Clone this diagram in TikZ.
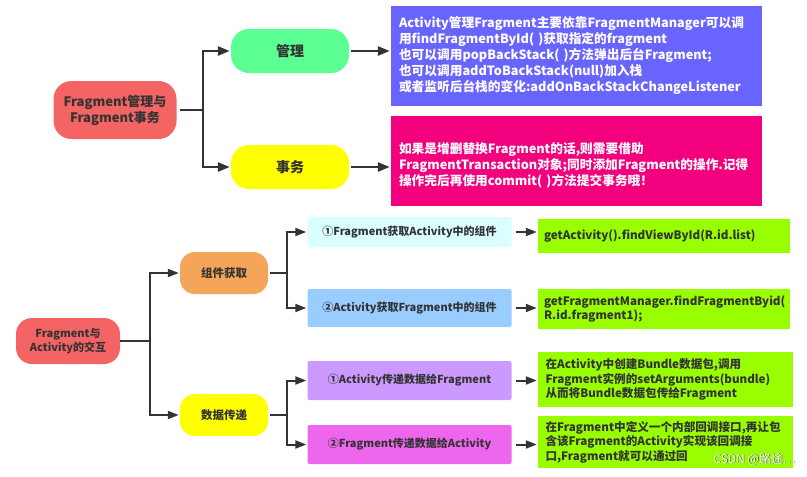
\documentclass[tikz,border=0pt]{standalone}
\usepackage{fontspec}
\setmainfont{Noto Sans CJK SC}
\usetikzlibrary{arrows.meta}
\definecolor{cred}{HTML}{F46464}
\definecolor{cgreen}{HTML}{5CFF92}
\definecolor{cyellow}{HTML}{FFFF00}
\definecolor{cblue}{HTML}{6A64FF}
\definecolor{cpink}{HTML}{F2007D}
\definecolor{corange}{HTML}{F5A55A}
\definecolor{ccyan}{HTML}{D9FFFF}
\definecolor{clblue}{HTML}{99CCFF}
\definecolor{cpurple}{HTML}{CC99FF}
\definecolor{cmag}{HTML}{EE66EE}
\definecolor{clime}{HTML}{99FF00}
\definecolor{cline}{HTML}{333333}
\begin{document}
\begin{tikzpicture}[x=1pt,y=-1pt,
  pill/.style={rounded corners=18pt,draw=none,font=\bfseries\fontsize{13}{16}\selectfont,text=cline,align=center,inner sep=0pt},
  note/.style={draw=none,font=\bfseries\fontsize{12.7}{16}\selectfont,text=white,align=left,inner sep=0pt},
  sub/.style={rounded corners=2pt,draw=none,font=\bfseries\fontsize{11}{14}\selectfont,text=cline,align=center,inner sep=0pt,minimum width=204pt},
  code/.style={draw=none,fill=clime,font=\bfseries\fontsize{11.6}{14.5}\selectfont,text=cline,align=left,inner sep=0pt,minimum width=252pt},
  link/.style={draw=cline,line width=2.5pt},
  arr/.style={link,-{Triangle[length=12pt,width=9pt]}},
  sarr/.style={draw=cline,line width=2pt,-{Triangle[length=11pt,width=8pt]}}]
\useasboundingbox[fill=white] (0,0) rectangle (807,477);
% top section
\node[pill,fill=cred,minimum width=123pt,minimum height=58pt] (r1) at (115,110) {Fragment管理与\\Fragment事务};
\node[pill,fill=cgreen,minimum width=118pt,minimum height=44pt,font=\bfseries\fontsize{14}{16}\selectfont] (gl) at (290,51) {管理};
\node[pill,fill=cyellow,minimum width=118pt,minimum height=44pt,font=\bfseries\fontsize{14}{16}\selectfont] (sw) at (290,167) {事务};
\node[note,fill=cblue,minimum width=371pt,minimum height=100pt,text width=355pt] (n1) at (576.5,56) {Activity管理Fragment主要依靠FragmentManager可以调\\用findFragmentById( )获取指定的fragment\\也可以调用popBackStack( )方法弹出后台Fragment;\\也可以调用addToBackStack(null)加入栈\\或者监听后台栈的变化:addOnBackStackChangeListener\\[6pt]};
\node[note,fill=cpink,minimum width=371pt,minimum height=90pt,text width=355pt] (n2) at (576.5,161) {\\[4pt]如果是增删替换Fragment的话,则需要借助\\FragmentTransaction对象;同时添加Fragment的操作.记得\\操作完后再使用commit( )方法提交事务哦！};
\coordinate (b1) at (203,110);
\draw[link,shorten <=3pt] (r1.east) -- (b1);
\draw[arr] (b1) |- ([xshift=-1pt]gl.west);
\draw[arr] (b1) |- ([xshift=-1pt]sw.west);
\draw[arr,shorten <=2pt,shorten >=1pt] (gl.east) -- (gl.east -| n1.west);
\draw[arr,shorten <=2pt,shorten >=1pt] (sw.east) -- (sw.east -| n2.west);
% bottom section
\node[pill,fill=cred,minimum width=104pt,minimum height=46pt,rounded corners=16pt,font=\bfseries\fontsize{11}{14}\selectfont] (r2) at (68,341) {Fragment与\\Activity的交互};
\node[pill,fill=corange,minimum width=88pt,minimum height=42pt,rounded corners=15pt,font=\bfseries\fontsize{11.5}{14}\selectfont] (zj) at (224,273) {组件获取};
\node[pill,fill=cyellow,minimum width=88pt,minimum height=42pt,rounded corners=15pt,font=\bfseries\fontsize{11.5}{14}\selectfont] (sj) at (224,415) {数据传递};
\node[sub,fill=ccyan,minimum height=30pt] (s1) at (409.5,232) {①Fragment获取Activity中的组件};
\node[sub,fill=clblue,minimum height=38pt] (s2) at (409.5,308) {②Activity获取Fragment中的组件};
\node[sub,fill=cpurple,minimum height=39pt] (s3) at (409.5,380.5) {①Activity传递数据给Fragment};
\node[sub,fill=cmag,minimum height=39pt] (s4) at (409.5,444.5) {②Fragment传递数据给Activity};
\node[code,minimum height=34pt,text width=240pt] (c1) at (664,236) {getActivity().findViewById(R.id.list)\\[4pt]};
\node[code,minimum height=40pt,text width=240pt] (c2) at (664,309) {getFragmentManager.findFragmentByid(\\R.id.fragment1);};
\node[code,minimum height=55pt,text width=240pt,minimum width=255pt] (c3) at (665.5,379.5) {在Activity中创建Bundle数据包,调用\\Fragment实例的setArguments(bundle)\\从而将Bundle数据包传给Fragment};
\node[code,minimum height=52pt,text width=240pt,minimum width=255pt] (c4) at (665.5,442) {在Fragment中定义一个内部回调接口,再让包\\含该Fragment的Activity实现该回调接\\口,Fragment就可以通过回\phantom{调接口传数据}};
\node[font=\fontsize{12}{14}\selectfont,text=cline,inner sep=0pt,anchor=east] (wms) at (796.6,459.6) {CSDN @路途…};
\node[font=\fontsize{12}{14}\selectfont,text=white,inner sep=0pt,anchor=east] (wm) at (796,459) {CSDN @路途…};
\coordinate (b2) at (150,341);
\coordinate (b3) at (287,273);
\coordinate (b4) at (287,415);
\draw[sarr] (r2.east) -- (b2) |- ([xshift=-1pt]zj.west);
\draw[sarr] (b2) |- ([xshift=-1pt]sj.west);
\draw[sarr,shorten <=2pt] (zj.east) -- (b3) |- ([xshift=-1pt]s1.west);
\draw[sarr] (b3) |- ([xshift=-1pt]s2.west);
\draw[sarr,shorten <=2pt] (sj.east) -- (b4) |- ([xshift=-1pt]s3.west);
\draw[sarr] (b4) |- ([xshift=-1pt]s4.west);
\draw[sarr,shorten <=4pt,shorten >=1pt] (s1.east) -- (s1.east -| c1.west);
\draw[sarr,shorten <=4pt,shorten >=1pt] (s2.east) -- (s2.east -| c2.west);
\draw[sarr,shorten <=4pt,shorten >=1pt] (s3.east) -- (s3.east -| c3.west);
\draw[sarr,shorten <=4pt,shorten >=1pt] (s4.east) -- (s4.east -| c4.west);
\end{tikzpicture}
\end{document}
